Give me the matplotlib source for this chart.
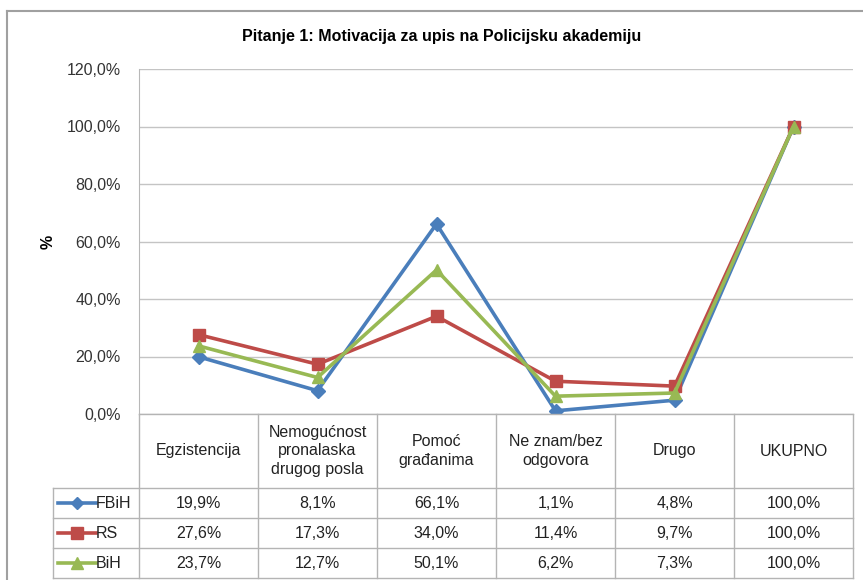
import numpy as np
import matplotlib.pyplot as plt
from matplotlib.ticker import FuncFormatter

# data
categories = ['Egzistencija', 'Nemogućnost\npronalaska\ndrugog posla', 'Pomoć\ngrađanima',
              'Ne znam/bez\nodgovora', 'Drugo', 'UKUPNO']
fbih = [19.9, 8.1, 66.1, 1.1, 4.8, 100.0]
rs = [27.6, 17.3, 34.0, 11.4, 9.7, 100.0]
bih = [23.7, 12.7, 50.1, 6.2, 7.3, 100.0]
series_names = ['FBiH', 'RS', 'BiH']
yticks = [0, 20, 40, 60, 80, 100, 120]

colors = ['#4A7EBB', '#BE4B48', '#98B954']
markers = ['D', 's', '^']
msizes = [7, 9, 9]
fs = 11.5

plt.rcParams['font.family'] = ['Liberation Sans', 'DejaVu Sans']
W, H = 863, 580
fig = plt.figure(figsize=(W / 100, H / 100), dpi=100)

# plot area in pixels
px0, px1, py0, py1 = 139, 853, 69, 414
ax = fig.add_axes([px0 / W, 1 - py1 / H, (px1 - px0) / W, (py1 - py0) / H])
x = np.arange(len(categories))
for vals, c, m, ms in zip([fbih, rs, bih], colors, markers, msizes):
    ax.plot(x, np.array(vals) / 100, color=c, lw=2.6, marker=m, ms=ms, mec=c, mfc=c, zorder=3)
ax.set_xlim(-0.5, len(categories) - 0.5)
ax.set_ylim(0, 1.2)
ax.set_yticks(np.array(yticks) / 100)
ax.yaxis.set_major_formatter(FuncFormatter(lambda v, p: f'{v * 100:.1f}%'.replace('.', ',')))
ax.tick_params(axis='y', length=0, pad=13, labelsize=fs, colors='#333333')
ax.set_xticks([])
ax.grid(axis='y', color='#c4c4c4', lw=1)
for s in ['top', 'right', 'bottom']:
    ax.spines[s].set_visible(False)
ax.spines['left'].set_color('#b8b8b8')
ax.set_ylabel('%', fontsize=fs, fontweight='bold', labelpad=8)

# overlay for frame (pixel coordinates)
ov = fig.add_axes([0, 0, 1, 1], zorder=-1)
ov.set_xlim(0, W)
ov.set_ylim(H, 0)
ov.axis('off')
ov.plot([7, 7], [11, H], color='#a0a0a0', lw=1.5)
ov.plot([7, W], [11, 11], color='#a0a0a0', lw=1.5)

fig.text(442 / W, 1 - 37 / H, 'Pitanje 1: Motivacija za upis na Policijsku akademiju',
         ha='center', va='center', fontsize=11.5, fontweight='bold',
         family=['Liberation Sans Narrow', 'Liberation Sans', 'DejaVu Sans'])

# data table
ov2 = fig.add_axes([0, 0, 1, 1])
ov2.set_xlim(0, W)
ov2.set_ylim(H, 0)
ov2.axis('off')
grid_c = '#b4b4b4'
colw = (px1 - px0) / len(categories)
head_bottom = 488
rowh = 30
nrows = len(series_names)
bottom = head_bottom + rowh * nrows
for i in range(len(categories) + 1):
    xx = px0 + i * colw
    ov2.plot([xx, xx], [py1, bottom], color=grid_c, lw=1)
ov2.plot([53, 53], [head_bottom, bottom], color=grid_c, lw=1)
ov2.plot([px0, px1], [py1, py1], color=grid_c, lw=1)
for r in range(nrows + 1):
    yy = head_bottom + r * rowh
    ov2.plot([53, px1], [yy, yy], color=grid_c, lw=1)
for i, cat in enumerate(categories):
    ov2.text(px0 + (i + 0.5) * colw, (py1 + head_bottom) / 2, cat, ha='center', va='center',
             fontsize=fs, color='#222222', linespacing=1.3)
for r, (name, vals, c, m, ms) in enumerate(zip(series_names, [fbih, rs, bih], colors, markers, msizes)):
    yy = head_bottom + (r + 0.5) * rowh
    ov2.plot([58, 96], [yy, yy], color=c, lw=2.6)
    ov2.plot([77], [yy], marker=m, ms=ms - 1, color=c)
    ov2.text(96, yy, name, ha='left', va='center', fontsize=fs, color='#222222')
    for i, v in enumerate(vals):
        ov2.text(px0 + (i + 0.5) * colw, yy, f'{v:.1f}%'.replace('.', ','), ha='center',
                 va='center', fontsize=fs, color='#222222')

fig.savefig('out.png', dpi=100)
